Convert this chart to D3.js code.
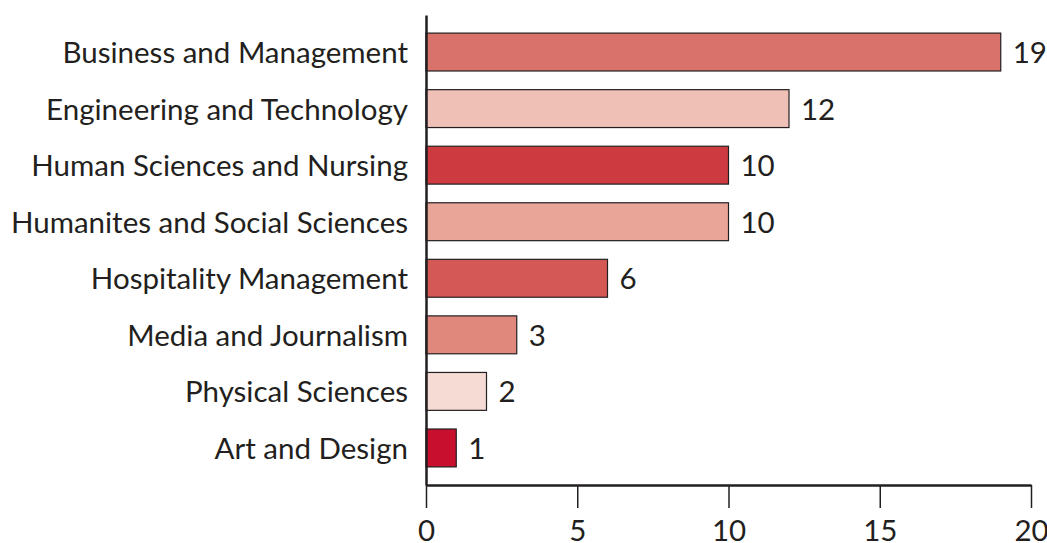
<!DOCTYPE html>
<html>
<head>
<meta charset="utf-8">
<script src="https://cdn.jsdelivr.net/npm/d3@7"></script>
<style>
  body { margin: 0; background: #fff; }
  svg text { font-family: "Lato", "Open Sans", sans-serif; fill: #231f20; }
</style>
</head>
<body>
<figure id="chart" style="margin:0"></figure>
<script>
// categories and values, top to bottom
var categories = [
	"Business and Management",
	"Engineering and Technology",
	"Human Sciences and Nursing",
	"Humanites and Social Sciences",
	"Hospitality Management",
	"Media and Journalism",
	"Physical Sciences",
	"Art and Design"
];
var values = [19, 12, 10, 10, 6, 3, 2, 1];
var barColors = ["#d9726a", "#efc0b6", "#cd3b41", "#e9a597", "#d45955", "#e0887c", "#f6dbd5", "#c8102e"];
var xTicks = [0, 5, 10, 15, 20];

var data = categories.map((c, i) => ({ category: c, value: values[i], color: barColors[i] }));

var fontSize = "29.5px";

var dimensions = {
	width: 1047,
	height: 543,
	margin: { top: 15, right: 16, bottom: 58, left: 426 }
};
dimensions.boundedWidth = dimensions.width - dimensions.margin.left - dimensions.margin.right
dimensions.boundedHeight = dimensions.height - dimensions.margin.top - dimensions.margin.bottom

var svg = d3.select("figure#chart")
	.append("svg")
	.attr("width", dimensions.width)
	.attr("height", dimensions.height)
	.append("g")
	.attr("transform", `translate(${dimensions.margin.left},${dimensions.margin.top})`);

var xScale = d3.scaleLinear()
	.domain([0, 20])
	.range([0, 605]);

var yScale = d3.scaleBand()
	.domain(categories)
	.range([0, dimensions.boundedHeight])
	.paddingInner(0.33)
	.paddingOuter(0.32);

// x axis
var xAxis = svg.append("g")
	.attr("class", "x_axis")
	.attr("transform", `translate(0, ${dimensions.boundedHeight})`)
	.call(d3.axisBottom(xScale).tickValues(xTicks).tickSize(23).tickPadding(12).tickSizeOuter(0));
xAxis.select(".domain").attr("stroke", "#231f20").attr("stroke-width", 2.5);
xAxis.selectAll(".tick line").attr("stroke", "#231f20").attr("stroke-width", 1.5);
xAxis.selectAll("text").style("font-size", fontSize).attr("fill", "#231f20");

// bars
svg.selectAll("rect.bar")
	.data(data)
	.enter()
	.append("rect")
	.attr("class", "bar")
	.attr("x", 0)
	.attr("y", d => yScale(d.category))
	.attr("width", d => xScale(d.value))
	.attr("height", yScale.bandwidth())
	.attr("fill", d => d.color)
	.attr("stroke", "#231f20")
	.attr("stroke-width", 1.2);

// value labels
svg.selectAll("text.value")
	.data(data)
	.enter()
	.append("text")
	.attr("class", "value")
	.attr("x", d => xScale(d.value) + 12)
	.attr("y", d => yScale(d.category) + yScale.bandwidth() / 2)
	.attr("dy", "0.37em")
	.style("font-size", fontSize)
	.text(d => d.value);

// y axis
var yAxis = svg.append("g")
	.attr("class", "y_axis")
	.call(d3.axisLeft(yScale).tickSize(0).tickPadding(18));
yAxis.select(".domain").attr("stroke", "#231f20").attr("stroke-width", 2.5);
yAxis.selectAll("text").style("font-size", fontSize).attr("fill", "#231f20").attr("dy", "0.37em");
</script>
</body>
</html>
